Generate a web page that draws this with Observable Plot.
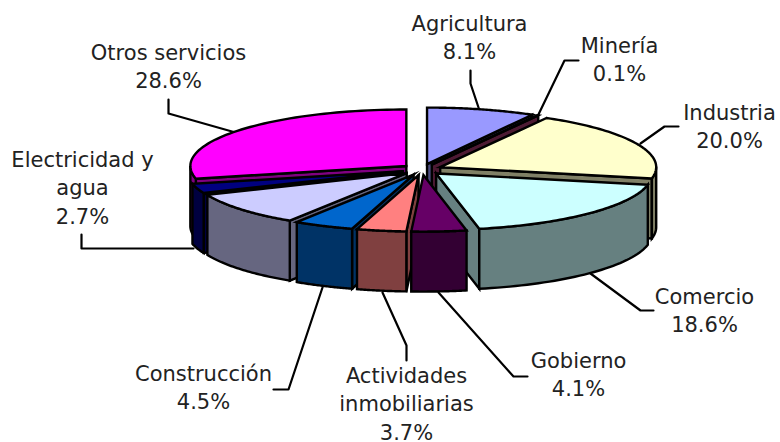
<!DOCTYPE html>
<html><head><meta charset="utf-8">
<script src="https://cdn.jsdelivr.net/npm/d3@7"></script>
<script src="https://cdn.jsdelivr.net/npm/@observablehq/plot@0.6"></script>
<style>html,body{margin:0;padding:0;background:#fff}svg{display:block}</style>
</head><body><div id="chart"></div>
<script>
// Shares (clockwise from the top). The lavender slice has no label.
const sectors = ["Agricultura","Minería","Industria","Comercio","Gobierno","Actividades\ninmobiliarias","Construcción","","Electricidad y\nagua","Otros servicios"];
const shares  = [8.1,0.1,20.0,18.6,4.1,3.7,4.5,9.6,2.7,28.6];
const topColors  = ["#9999ff","#993366","#ffffcc","#ccffff","#660066","#ff8080","#0066cc","#ccccff","#000080","#ff00ff"];
const sideColors = ["#4d4d80","#4d1a33","#808066","#668080","#330033","#804040","#003366","#666680","#000040","#800080"];
// Label anchor per sector (centre x, centre y of first line)
const labelX = [469,619,729,704,578,406,203,null,82,168];
const labelY = [24,46,113,297,361,376,374,null,160,53];
// Leader lines
const leaders = [
  [[470,70],[470,83],[479,110]],
  [[578,60],[564,60],[537,116]],
  [[678,126],[664,126],[640,143]],
  [[653,310],[640,310],[590,273]],
  [[527,376],[513,376],[438,292]],
  [[406,360],[406,345],[382,292]],
  [[273,389],[288,389],[322,287]],
  [[81,234],[81,248],[193,248]],
  [[168,99],[168,113],[235,132]]
];
const cx=421.5, cy=169, rx=216, ry=56.5, depth=60, explode=20, ky=0.28;
const rad = d => d*Math.PI/180;
const faces=[];
let cum=0;
const slices = shares.map((v,i)=>{const a0=cum*3.6; cum+=v; const a1=cum*3.6; return {i,a0,a1,mid:(a0+a1)/2};});
const order = slices.slice().sort((a,b)=>Math.cos(rad(b.mid))-Math.cos(rad(a.mid)));
for(const s of order){
  const mx=Math.sin(rad(s.mid)), my=-Math.cos(rad(s.mid));
  const ax=cx+explode*mx, ay=cy+explode*ky*my;
  const P=(t,d=0)=>[ax+rx*Math.sin(rad(t)), ay-ry*Math.cos(rad(t))+d];
  const side=sideColors[s.i], top=topColors[s.i];
  if(Math.cos(rad(s.a0-90))<0) faces.push({c:side,p:[[ax,ay],P(s.a0),P(s.a0,depth),[ax,ay+depth]]});
  if(Math.cos(rad(s.a1+90))<0) faces.push({c:side,p:[[ax,ay],P(s.a1),P(s.a1,depth),[ax,ay+depth]]});
  const w0=Math.max(s.a0,90), w1=Math.min(s.a1,270);
  if(w1>w0){
    const t=d3.range(0,41).map(k=>w0+(w1-w0)*k/40);
    faces.push({c:side,p:[...t.map(x=>P(x)),...t.slice().reverse().map(x=>P(x,depth))]});
  }
  const t=d3.range(0,61).map(k=>s.a0+(s.a1-s.a0)*k/60);
  faces.push({c:top,p:[[ax,ay],...t.map(x=>P(x))]});
}
const polyRows = faces.flatMap((f,id)=>[...f.p,f.p[0],f.p[1]].map(([x,y])=>({x,y,id,c:f.c})));
const leaderRows = leaders.flatMap((l,id)=>l.map(([x,y])=>({x,y,id})));
const labelRows = sectors.map((n,i)=>({n,v:shares[i],x:labelX[i],y:labelY[i]-13.5})).filter(d=>d.n);
const plot = Plot.plot({
  width:780,height:442,margin:0,
  x:{domain:[0,780],range:[0,780],axis:null},
  y:{domain:[0,442],range:[0,442],axis:null},
  color:{type:"identity"},
  style:{background:"#fff"},
  marks:[
    Plot.line(leaderRows,{x:"x",y:"y",z:"id",stroke:"#000",strokeWidth:2.2,curve:"linear"}),
    Plot.line(polyRows,{x:"x",y:"y",z:"id",fill:"c",stroke:"#000",strokeWidth:2.4,strokeLinejoin:"miter",strokeMiterlimit:6,curve:"linear"}),
    Plot.text(labelRows,{x:"x",y:"y",text:d=>`${d.n}\n${d.v.toFixed(1)}%`,lineAnchor:"top",textAnchor:"middle",lineHeight:1.35,fontSize:21,fontFamily:"DejaVu Sans",fill:"#222"})
  ]
});
document.getElementById("chart").append(plot);
</script></body></html>
